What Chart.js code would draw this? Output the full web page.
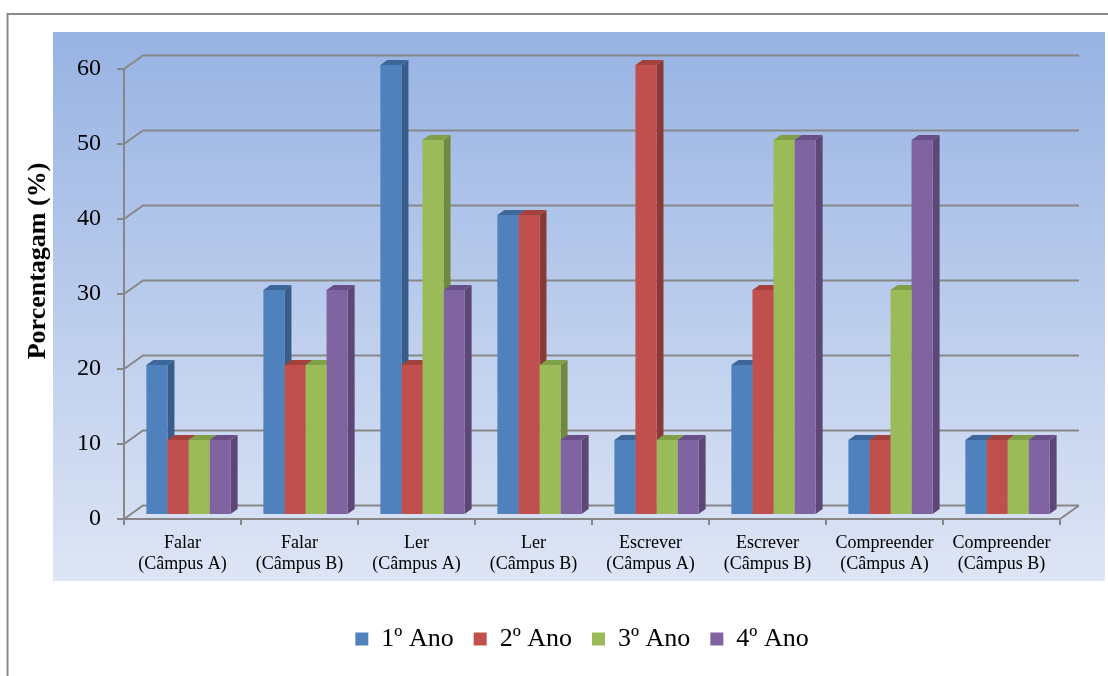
<!DOCTYPE html>
<html>
<head>
<meta charset="utf-8">
<script src="https://cdn.jsdelivr.net/npm/chart.js@4.4.1/dist/chart.umd.min.js"></script>
<style>
  html, body { margin: 0; padding: 0; background: #ffffff; }
  canvas { display: block; }
</style>
</head>
<body>
<canvas id="chart" width="1108" height="676"></canvas>
<script>
// Categories (two-line tick labels) and the four school years
const categories = [
  ['Falar', '(Câmpus A)'], ['Falar', '(Câmpus B)'],
  ['Ler', '(Câmpus A)'], ['Ler', '(Câmpus B)'],
  ['Escrever', '(Câmpus A)'], ['Escrever', '(Câmpus B)'],
  ['Compreender', '(Câmpus A)'], ['Compreender', '(Câmpus B)']
];
const seriesNames = ['1º Ano', '2º Ano', '3º Ano', '4º Ano'];
const ano1 = [20, 30, 60, 40, 10, 20, 10, 10];
const ano2 = [10, 20, 20, 40, 60, 30, 10, 10];
const ano3 = [10, 20, 50, 20, 10, 50, 30, 10];
const ano4 = [10, 30, 30, 10, 10, 50, 50, 10];
const yMin = 0, yMax = 60, yStep = 10;
const axisTitle = 'Porcentagam (%)';

// Styling
const FONT = "'Liberation Serif', 'Times New Roman', serif";
const GRID = '#878787';
const frontColors = ['#4f81bd', '#c0504d', '#9bbb59', '#8064a2'];
const sideColors  = ['#385d8a', '#8c3836', '#71893f', '#5c4776'];
const topColors   = ['#3d679a', '#a3413f', '#80a048', '#684f88'];
const WALL = { dx: 19, dy: -13.5 };      // depth of the back wall / floor
const BAR_SHIFT = { dx: 6, dy: -4 };     // bars sit slightly behind the front plane
const BAR_DEPTH = { dx: 7, dy: -5 };     // thickness of each bar

// Gradient panel and the outer frame
const backdrop = {
  id: 'backdrop',
  beforeDraw(chart) {
    const ctx = chart.ctx;
    ctx.save();
    const g = ctx.createLinearGradient(0, 32, 0, 581);
    g.addColorStop(0, '#97b3e3');
    g.addColorStop(1, '#dee5f5');
    ctx.fillStyle = g;
    ctx.fillRect(53, 32, 1052, 549);
    ctx.strokeStyle = '#8a8a8a';
    ctx.lineWidth = 2;
    ctx.beginPath();
    ctx.moveTo(7.5, 676);
    ctx.lineTo(7.5, 14);
    ctx.lineTo(1108, 14);
    ctx.stroke();
    ctx.restore();
  }
};

// Back wall gridlines, floor outline and the 3D faces of the bars
const depth = {
  id: 'depth',
  beforeDatasetsDraw(chart) {
    const { ctx, chartArea: a } = chart;
    const yScale = chart.scales.y;
    ctx.save();
    ctx.strokeStyle = GRID;
    ctx.lineWidth = 2;
    yScale.ticks.forEach(t => {
      const py = yScale.getPixelForValue(t.value);
      ctx.beginPath();
      ctx.moveTo(a.left, py);
      ctx.lineTo(a.left + WALL.dx, py + WALL.dy);
      ctx.lineTo(a.right + WALL.dx, py + WALL.dy);
      ctx.stroke();
    });
    const p0 = yScale.getPixelForValue(yMin);
    ctx.beginPath();
    ctx.moveTo(a.right, p0);
    ctx.lineTo(a.right + WALL.dx, p0 + WALL.dy);
    ctx.stroke();
    ctx.restore();

    // shift stays active for the bar fronts; released in afterDatasetsDraw
    ctx.save();
    ctx.translate(BAR_SHIFT.dx, BAR_SHIFT.dy);
    const metas = chart.data.datasets.map((d, i) => chart.getDatasetMeta(i));
    for (let j = 0; j < categories.length; j++) {
      metas.forEach((m, i) => {
        const el = m.data[j];
        if (!el) return;
        const p = el.getProps(['x', 'y', 'base', 'width'], true);
        const l = p.x - p.width / 2, r = p.x + p.width / 2;
        ctx.fillStyle = sideColors[i];
        ctx.beginPath();
        ctx.moveTo(r, p.y);
        ctx.lineTo(r + BAR_DEPTH.dx, p.y + BAR_DEPTH.dy);
        ctx.lineTo(r + BAR_DEPTH.dx, p.base + BAR_DEPTH.dy);
        ctx.lineTo(r, p.base);
        ctx.closePath();
        ctx.fill();
        ctx.fillStyle = topColors[i];
        ctx.beginPath();
        ctx.moveTo(l, p.y);
        ctx.lineTo(l + BAR_DEPTH.dx, p.y + BAR_DEPTH.dy);
        ctx.lineTo(r + BAR_DEPTH.dx, p.y + BAR_DEPTH.dy);
        ctx.lineTo(r, p.y);
        ctx.closePath();
        ctx.fill();
      });
    }
  },
  afterDatasetsDraw(chart) {
    chart.ctx.restore();
  }
};

// Rotated axis title
const yTitle = {
  id: 'yTitle',
  afterDraw(chart) {
    const ctx = chart.ctx;
    ctx.save();
    ctx.translate(38, 261);
    ctx.rotate(-Math.PI / 2);
    ctx.font = "bold 26px " + FONT;
    ctx.fillStyle = '#000';
    ctx.textAlign = 'center';
    ctx.textBaseline = 'middle';
    ctx.fillText(axisTitle, 0, 0);
    ctx.restore();
  }
};

// Legend sits a little right of the canvas centre
const legendShift = {
  id: 'legendShift',
  afterLayout(chart) {
    const lg = chart.legend;
    if (!lg) return;
    const shift = 582 - (lg.left + lg.right) / 2;
    lg.left += shift;
    lg.right += shift;
  }
};

const seriesValues = [ano1, ano2, ano3, ano4];

new Chart(document.getElementById('chart'), {
  type: 'bar',
  data: {
    labels: categories,
    datasets: seriesNames.map((name, i) => ({
      label: name,
      data: seriesValues[i],
      backgroundColor: frontColors[i],
      borderWidth: 0,
      categoryPercentage: 0.72,
      barPercentage: 1.0,
      clip: false
    }))
  },
  options: {
    responsive: false,
    animation: false,
    events: [],
    layout: { padding: { left: 0, right: 48, top: 69, bottom: 14 } },
    plugins: {
      legend: {
        position: 'bottom',
        labels: {
          font: { family: FONT, size: 26 },
          color: '#000',
          boxWidth: 13,
          boxHeight: 13,
          padding: 20
        }
      },
      tooltip: { enabled: false }
    },
    scales: {
      x: {
        grid: { drawOnChartArea: false, drawTicks: true, tickLength: 6, color: GRID, lineWidth: 2, offset: true },
        border: { color: GRID, width: 2 },
        ticks: {
          font: { family: FONT, size: 18, lineHeight: 1.17 },
          color: '#000',
          padding: 8,
          maxRotation: 0,
          autoSkip: false
        },
        afterFit(s) { s.height = 87; }
      },
      y: {
        min: yMin,
        max: yMax,
        ticks: { stepSize: yStep, font: { family: FONT, size: 24 }, color: '#000', padding: 16 },
        grid: { drawOnChartArea: false, drawTicks: true, tickLength: 7, color: GRID, lineWidth: 2 },
        border: { color: GRID, width: 2 },
        afterFit(s) { s.width = 124; }
      }
    }
  },
  plugins: [backdrop, depth, yTitle, legendShift]
});
</script>
</body>
</html>
